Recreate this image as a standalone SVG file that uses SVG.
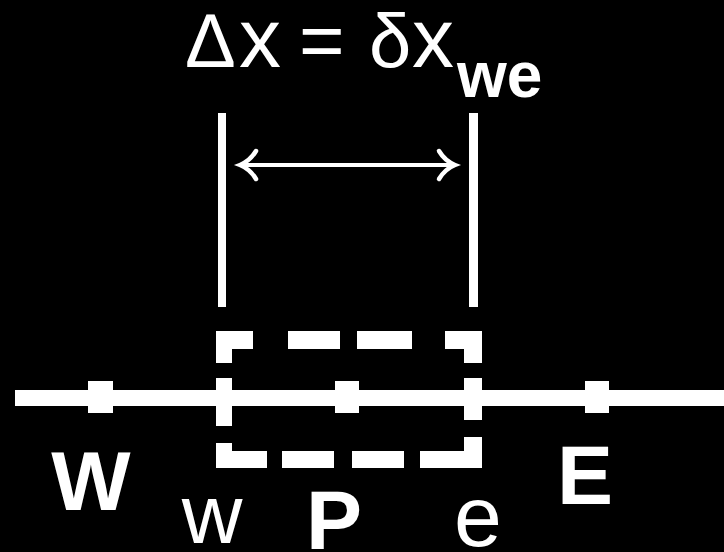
<svg xmlns="http://www.w3.org/2000/svg" width="724" height="552" viewBox="0 0 724 552">
  <style>
    .t { fill: #fff; font-family: "Liberation Sans", Arial, sans-serif; }
    .b { font-weight: bold; }
    .ln { stroke: #fff; fill: none; }
    .f { fill: #fff; }
  </style>
  <defs>
    <marker id="ah" markerUnits="userSpaceOnUse" viewBox="0 0 22 32" refX="19" refY="16" markerWidth="22" markerHeight="32" orient="auto-start-reverse" overflow="visible">
      <path d="M3,2 Q9,12 19,16 Q9,20 3,30" fill="none" stroke="#fff" stroke-width="4.5" stroke-linecap="round"/>
    </marker>
  </defs>
  <rect x="0" y="0" width="724" height="552" fill="#000"/>

  <g id="title">
    <text class="t" y="67"><tspan x="185" font-size="76">Δ</tspan><tspan x="239" font-size="84">x</tspan><tspan x="299" font-size="78">=</tspan><tspan x="369" font-size="76">δ</tspan><tspan x="412" font-size="84">x</tspan></text>
    <text class="t b" x="457" y="97" font-size="64">we</text>
  </g>

  <g id="connectors">
    <line id="axis" class="ln" x1="15" y1="398" x2="724" y2="398" stroke-width="16"/>
    <line id="face-w-line" class="ln" x1="222" y1="113" x2="222" y2="307" stroke-width="8"/>
    <line id="face-e-line" class="ln" x1="473.5" y1="113" x2="473.5" y2="307" stroke-width="9"/>
    <line id="dimension" class="ln" x1="240" y1="165" x2="455" y2="165" stroke-width="4" marker-start="url(#ah)" marker-end="url(#ah)"/>
  </g>

  <g id="control-volume" class="f">
    <rect x="216" y="331" width="37" height="18"/>
    <rect x="216" y="331" width="16" height="32"/>
    <rect x="288" y="331" width="52" height="18"/>
    <rect x="357" y="331" width="55" height="18"/>
    <rect x="445" y="331" width="37" height="18"/>
    <rect x="464" y="331" width="18" height="32"/>
    <rect x="216" y="378" width="16" height="48"/>
    <rect x="464" y="378" width="18" height="42"/>
    <rect x="216" y="443" width="16" height="25"/>
    <rect x="216" y="451" width="51" height="17"/>
    <rect x="282" y="451" width="52" height="17"/>
    <rect x="352" y="451" width="52" height="17"/>
    <rect x="420" y="451" width="62" height="17"/>
    <rect x="464" y="437" width="18" height="31"/>
  </g>

  <g id="node-W">
    <rect class="f" x="88" y="381" width="25" height="32"/>
    <text class="t b" x="91" y="510" font-size="84" text-anchor="middle">W</text>
  </g>
  <g id="node-P">
    <rect class="f" x="335" y="381" width="24" height="32"/>
    <text class="t b" x="306" y="549" font-size="84">P</text>
  </g>
  <g id="node-E">
    <rect class="f" x="585" y="381" width="24" height="32"/>
    <text class="t b" x="557" y="504" font-size="84">E</text>
  </g>
  <g id="face-w">
    <text class="t" x="212" y="543" font-size="84" text-anchor="middle">w</text>
  </g>
  <g id="face-e">
    <text class="t" x="454" y="546" font-size="86">e</text>
  </g>
</svg>
